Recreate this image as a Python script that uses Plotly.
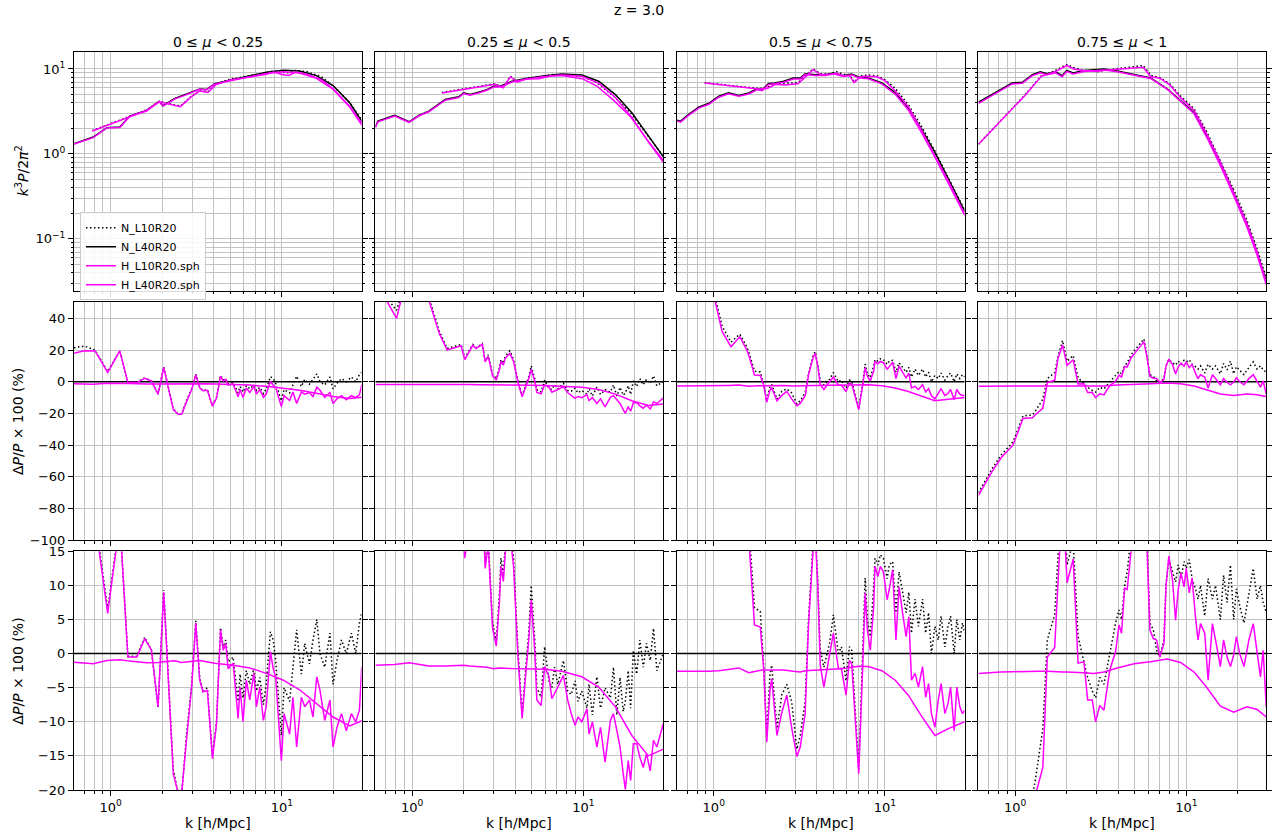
import numpy as np
import plotly.graph_objects as go
from plotly.subplots import make_subplots

# ---------------- text ----------------
suptitle = "z = 3.0"
mu_labels = ["0 ≤ <i>μ</i> < 0.25", "0.25 ≤ <i>μ</i> < 0.5",
             "0.5 ≤ <i>μ</i> < 0.75", "0.75 ≤ <i>μ</i> < 1"]
series_names = ["N_L10R20", "N_L40R20", "H_L10R20.sph", "H_L40R20.sph"]
ylabel_top = "<i>k</i><sup>3</sup><i>P</i>/2<i>π</i><sup>2</sup>"
ylabel_ratio = "Δ<i>P</i>/<i>P</i> × 100 (%)"
xlabel = "k [h/Mpc]"
x_tickvals = [1, 10]
x_ticktext = ["10<sup>0</sup>", "10<sup>1</sup>"]
ytop_tickvals = [0.1, 1, 10]
ytop_ticktext = ["10<sup>−1</sup>", "10<sup>0</sup>", "10<sup>1</sup>"]

# ---------------- column 1 : 0 <= mu < 0.25 ----------------
k40_c1 = [0.61, 0.79, 0.95, 1.13, 1.29, 1.62, 1.92, 2.02, 2.37, 2.59, 3.31, 3.62, 4.05,
          5.19, 6.49, 8.12, 10.2, 12.7, 15.9, 19.9, 24.9, 29.5]
pn40_c1 = [1.32, 1.58, 2.04, 2.07, 2.79, 3.25, 4.18, 3.7, 4.49, 4.79, 5.83, 5.73, 6.73,
           7.5, 8.36, 9.14, 9.65, 9.48, 8.36, 6.38, 4.0, 2.37]
dh40_c1 = [-1.25, -1.5, -1.0, -0.9, -1.1, -1.35, -1.3, -1.2, -1.05, -1.3, -1.0, -1.2, -1.4,
           -1.7, -2.1, -2.9, -3.9, -5.3, -7.3, -9.3, -10.6, -9.8]
k10top_c1 = [0.78, 1.29, 1.62, 1.92, 2.55, 2.95, 3.3, 3.7, 4.1, 5.0, 6.5, 8.0, 9.0, 10.0,
             11.0, 12.0, 14.0, 17.0, 20.0, 25.0, 29.5]
ph10_c1 = [1.86, 2.75, 3.25, 4.1, 3.6, 4.7, 5.5, 5.3, 6.5, 7.4, 8.0, 8.6, 9.2, 8.6,
           8.4, 9.2, 8.7, 7.5, 5.8, 3.6, 2.25]
pn10_c1 = [1.88, 2.78, 3.3, 4.15, 3.65, 4.75, 5.55, 5.4, 6.6, 7.6, 8.3, 9.0, 9.5, 9.1,
           9.0, 9.6, 9.3, 8.1, 6.3, 4.0, 2.45]
kr_c1 = [0.61, 0.70, 0.81, 0.96, 1.13, 1.26, 1.42, 1.58, 1.73, 1.89, 2.04, 2.17, 2.32, 2.48,
         2.60, 2.77, 2.97, 3.14, 3.31, 3.46, 3.67, 3.93, 4.15, 4.38, 4.54, 4.70, 4.85, 5.19,
         5.55, 5.70, 5.93, 6.20, 6.49, 6.86, 7.10, 7.43, 7.80, 8.10, 8.57, 8.90, 9.20, 9.93,
         10.3, 11.1, 11.6, 12.2, 13.0, 13.6, 14.5, 15.2, 16.0, 16.7, 17.8, 19.1, 19.9, 21.0,
         22.3, 23.8, 25.5, 27.0, 28.4, 29.3]
dh10_c1 = [18.0, 19.5, 19.4, 5.9, 19.4, -0.5, -0.5, 2.2, 0.5, -7.8, 9.0, -4.4, -17.6, -20.5,
           -20.3, -12.7, -4.9, 4.5, -3.9, -5.6, -5.4, -15.4, -10.3, 3.5, 0.5, 1.5, -2.2, -1.4,
           -9.5, -4.9, -10.0, -3.9, -6.8, -2.9, -7.8, -4.9, -9.8, -7.8, 0.3, -2.2, -3.4, -15.7,
           -8.8, -11.8, -6.4, -13.7, -6.4, -7.8, -6.8, -9.3, -3.4, -5.4, -9.8, -6.8, -13.7, -10.8,
           -8.8, -11.3, -8.8, -10.0, -8.3, -1.9]
dn10_c1 = [21.5, 22.5, 20.0, 6.5, 19.6, -0.4, -0.4, 2.4, 0.5, -8.0, 9.3, -4.2, -17.0, -20.5,
           -20.5, -12.0, -4.5, 4.8, -3.6, -5.5, -5.0, -15.0, -10.0, 3.8, 1.0, 2.0, -1.2, -0.5,
           -7.0, -3.0, -6.5, -2.5, -4.5, -2.2, -5.5, -3.5, -7.5, -4.5, 3.2, 2.0, -1.0, -12.0,
           -5.0, -7.0, -2.0, 3.5, -3.0, 1.5, -1.5, 2.0, 5.0, 0.0, -2.0, 3.0, -4.5, -1.0,
           2.0, 0.0, 3.0, 0.0, 4.5, 6.0]

# ---------------- column 2 : 0.25 <= mu < 0.5 ----------------
k40_c2 = [0.61, 0.63, 0.79, 0.96, 1.09, 1.25, 1.56, 1.87, 2.0, 2.18, 2.44, 2.73, 2.99, 3.27,
          3.83, 4.79, 5.99, 7.5, 9.8, 12.3, 15.4, 19.2, 24.0, 29.3]
pn40_c2 = [2.09, 2.43, 2.84, 2.39, 2.84, 3.19, 4.37, 4.7, 5.23, 5.0, 5.32, 5.72, 6.26, 6.26,
           7.17, 7.83, 8.34, 8.73, 8.5, 7.17, 5.0, 3.06, 1.63, 0.93]
dh40_c2 = [-1.7, -1.7, -1.6, -1.35, -1.6, -1.8, -1.8, -1.7, -1.7, -1.8, -1.9, -2.0, -2.2, -2.1,
           -2.2, -2.2, -2.3, -2.6, -3.4, -4.9, -7.8, -12.0, -15.0, -14.0]
k10top_c2 = [1.49, 3.05, 3.4, 3.75, 4.1, 4.6, 5.5, 6.5, 7.5, 8.5, 10.0, 12.0, 15.0, 19.0, 24.0, 29.3]
ph10_c2 = [5.23, 6.6, 6.0, 8.1, 7.0, 7.6, 7.7, 8.3, 8.4, 8.0, 7.6, 6.3, 4.3, 2.7, 1.4, 0.84]
pn10_c2 = [5.3, 6.7, 6.1, 8.2, 7.1, 7.8, 7.9, 8.6, 8.6, 8.4, 8.1, 6.9, 4.8, 3.0, 1.6, 0.94]
kr_c2 = [0.61, 0.71, 0.81, 0.86, 1.0, 1.22, 1.26, 1.44, 1.6, 1.93, 2.03, 2.26, 2.36, 2.57,
         2.67, 2.78, 2.95, 3.1, 3.24, 3.3, 3.41, 3.5, 3.72, 3.91, 4.14, 4.39, 4.63, 4.8,
         4.96, 5.2, 5.35, 5.67, 5.94, 6.3, 6.55, 6.78, 7.1, 7.65, 8.1, 8.5, 8.95, 9.3,
         9.8, 10.5, 10.8, 11.3, 12.0, 12.6, 13.4, 14.4, 15.0, 15.7, 16.4, 17.1, 17.6, 18.3,
         18.9, 19.6, 20.5, 21.4, 22.4, 23.4, 24.6, 25.7, 26.9, 29.3]
dh10_c2 = [70, 51, 40, 52, 80, 56, 50.5, 30.5, 20, 22.7, 14, 23, 21, 23.6,
           12.5, 16, 3.7, 1.1, 7.9, 12.8, 10.6, 14.8, 17.9, 12.8, 0, -9.5, -2.4, 2.0,
           7.9, 0.5, -6.8, -7.6, -1.9, -3.4, -6.6, -5.9, -4.9, -3.2, -6.8, -8.8, -10.5, -9.3,
           -10.0, -8.1, -11.8, -10.0, -13.7, -10.8, -15.9, -9.8, -8.8, -11.3, -13.7, -17.6, -19.9, -15.7,
           -18.6, -13.2, -13.2, -15.2, -16.7, -14.7, -17.2, -12.7, -13.7, -10.3]
dn10_c2 = [72, 53, 45, 54, 82, 58, 52, 32, 21, 23.5, 15, 23.5, 21.5, 24,
           13, 17, 4.5, 2.0, 9, 14, 11.5, 16, 19.5, 14, 1, -9, -1.5, 3,
           10, 2, -5, -6.4, 1, -4, -5, -2, -4.5, -1, -5.5, -6, -4, -7,
           -5.5, -8, -4.5, -9, -3.4, -8, -5, -6.5, -2, -9, -3.5, -8.5, -7, -2.5,
           -8, 0.5, -3, 2, -2, 1.5, -1, 3.7, -2.5, 0]

# ---------------- column 3 : 0.5 <= mu < 0.75 ----------------
k40_c3 = [0.61, 0.64, 0.71, 0.82, 0.93, 1.07, 1.22, 1.40, 1.6, 1.79, 1.92, 2.09, 2.27, 2.56,
          2.92, 3.2, 3.42, 3.92, 4.5, 5.0, 5.73, 6.4, 7.0, 8.0, 9.6, 11.5, 13.7, 16.4, 19.6,
          23.5, 29.3]
pn40_c3 = [2.5, 2.43, 2.91, 3.58, 3.92, 4.77, 5.23, 4.87, 5.23, 5.83, 5.7, 6.73, 6.86, 7.17,
           7.83, 7.83, 8.81, 8.57, 8.57, 8.97, 8.34, 8.73, 8.05, 7.83, 6.86, 5.23, 3.49, 1.95, 1.04,
           0.505, 0.21]
dh40_c3 = [-2.6, -2.6, -2.7, -2.7, -2.6, -2.5, -2.3, -2.1, -2.8, -2.5, -2.4, -2.4, -2.4, -2.4,
           -2.6, -2.7, -2.5, -2.4, -2.3, -2.3, -2.2, -2.0, -1.85, -1.9, -2.5, -3.9, -6.1, -9.2, -12.0,
           -11.0, -10.0]
k10top_c3 = [0.885, 1.83, 2.05, 2.3, 2.6, 3.1, 3.4, 3.8, 4.2, 4.8, 5.2, 5.8, 6.2, 6.6, 7.2,
             8.0, 9.0, 10.0, 11.5, 13.7, 16.4, 19.6, 23.5, 29.3]
ph10_c3 = [6.86, 5.83, 5.9, 6.6, 6.5, 6.7, 7.9, 9.8, 8.6, 8.6, 8.9, 8.3, 8.4, 6.9, 8.1,
           8.2, 8.1, 7.3, 5.5, 3.6, 1.9, 0.94, 0.48, 0.194]
pn10_c3 = [6.9, 5.9, 6.0, 6.8, 6.8, 6.9, 8.1, 10.0, 8.8, 8.8, 9.3, 8.6, 8.6, 7.0, 8.3,
           8.5, 8.3, 7.5, 5.9, 3.8, 2.1, 1.08, 0.52, 0.217]
kr_c3 = [0.9, 1.02, 1.12, 1.26, 1.42, 1.56, 1.62, 1.73, 1.87, 1.96, 2.04, 2.13, 2.18, 2.34,
         2.5, 2.67, 2.85, 3.06, 3.2, 3.42, 3.58, 3.8, 3.91, 4.05, 4.19, 4.4, 4.75, 5.0,
         5.35, 5.57, 5.93, 6.2, 6.4, 7.03, 7.42, 7.67, 7.9, 8.22, 8.6, 8.75, 9.1, 9.4,
         9.8, 10.3, 10.6, 11.1, 11.6, 12.1, 12.7, 13.3, 13.8, 14.3, 15.0, 15.7, 16.6, 17.3,
         18.0, 18.7, 19.6, 20.5, 21.3, 22.4, 23.4, 24.2, 25.4, 26.3, 27.4, 28.4, 29.3]
dh10_c3 = [85, 50.5, 31.6, 22.1, 28.4, 20, 15, 4.2, 3.9, -2.4, -13, -5.4, -3.7, -12,
           -8.6, -6.1, -10.8, -15.1, -13.7, -8.8, 4.4, 15, 18, 10, -1.7, -4.9, 0, 3.0,
           -2.2, -2.2, -6.1, -1.0, -1.5, -17.6, -1.9, 8.9, 3.5, 0.5, 6.9, 12.8, 11.3, 12.8,
           12.0, 7.9, 9.4, 12.3, 2.0, 9.8, 5.9, 2.5, 5.4, -3.9, -2.9, -4.9, -1.9, -6.4,
           -4.4, -8.8, -10.8, -6.8, -4.4, -8.8, -7.3, -4.9, -11.3, -4.9, -7.8, -8.8, -8.3]
dn10_c3 = [88, 53, 35, 25, 30, 22, 17, 6.7, 6.2, -2, -12, -3, -1.7, -11,
           -6, -4.5, -7, -14, -12, -7, 5, 16, 19, 11, 0.5, -2, 1.5, 5.7,
           0, 1, -4, 1, 0.5, -17, -1, 11.1, 5, 2.5, 10, 14, 13, 14.5,
           14, 11, 13, 13.5, 6, 12, 9, 6, 9, 3, 8, 4, 8, 3,
           6, 0, 4, 2, 5.5, 1, 4, 5.5, 0, 5, 2, 4.5, 3]

# ---------------- column 4 : 0.75 <= mu < 1 ----------------
k40_c4 = [0.61, 0.69, 0.82, 0.96, 1.1, 1.26, 1.4, 1.54, 1.72, 1.88, 2.0, 2.18, 2.52, 2.88,
          3.3, 3.95, 4.94, 6.18, 7.73, 9.25, 11.1, 13.2, 15.8, 18.9, 22.6, 25.9, 29.3]
pn40_c4 = [4.06, 4.69, 5.72, 6.86, 6.97, 8.57, 9.29, 8.8, 9.29, 8.34, 9.63, 9.0, 9.63, 9.8,
           10.0, 9.46, 8.57, 7.83, 5.83, 4.18, 3.05, 1.63, 0.79, 0.352, 0.15, 0.0697, 0.032]
dh40_c4 = [-2.9, -2.8, -2.7, -2.65, -2.6, -2.6, -2.6, -2.6, -2.7, -2.7, -2.7, -2.7, -2.8, -2.9,
           -2.7, -2.1, -1.5, -1.2, -0.8, -1.3, -2.7, -5.0, -7.7, -8.6, -7.8, -8.2, -9.3]
k10top_c4 = [0.61, 1.13, 1.42, 1.7, 2.0, 2.2, 2.5, 3.0, 3.5, 4.0, 4.85, 5.6, 6.2, 7.0, 8.0,
             9.25, 11.1, 13.2, 15.8, 18.9, 22.6, 25.9, 29.3]
ph10_c4 = [1.3, 4.79, 8.19, 9.2, 11.0, 10.0, 9.6, 9.4, 9.7, 9.9, 10.3, 10.5, 8.1, 7.8, 6.5,
           4.6, 3.25, 1.7, 0.8, 0.355, 0.152, 0.07, 0.031]
pn10_c4 = [1.3, 4.85, 8.3, 9.5, 11.3, 10.4, 9.6, 9.3, 9.8, 10.2, 10.6, 11.0, 8.4, 7.9, 6.7,
           4.8, 3.4, 1.8, 0.84, 0.38, 0.165, 0.076, 0.035]
kr_c4 = [0.61, 0.73, 0.83, 0.97, 1.11, 1.26, 1.32, 1.45, 1.54, 1.7, 1.78, 1.89, 2.01, 2.18,
         2.33, 2.52, 2.65, 2.82, 2.95, 3.12, 3.3, 3.57, 3.86, 4.04, 4.18, 4.36, 4.51, 4.75,
         5.08, 5.65, 5.9, 6.12, 6.41, 6.7, 7.0, 7.4, 7.6, 7.9, 8.3, 8.65, 8.96, 9.3,
         9.7, 9.98, 10.4, 10.8, 11.3, 11.7, 12.1, 12.8, 13.4, 14.2, 14.8, 15.8, 16.5, 17.3,
         18.1, 18.9, 19.6, 20.5, 21.7, 23.2, 24.6, 25.9, 27.1, 28.1, 29.3]
dh10_c4 = [-71.6, -56.8, -47.8, -40, -23.2, -22.7, -20.5, -16.7, -0.5, 0.9, 15, 23.2, 10.4, 13.9,
           -1.4, -1.2, -6.8, -6.8, -10.0, -7.6, -8.3, -2.4, 0.3, 4.2, 3.0, 9.6, 9.4, 15,
           19, 25.3, 15, 3.5, 2.2, 2.0, -0.5, 1.5, 9.8, 14.3, 10.8, 4.9, 9.4, 11.8,
           9.8, 12.5, 8.9, 11.1, 5.4, 2.0, 4.4, 3.0, -3.9, 4.4, 2.0, -1.9, 2.0, -0.5,
           -1.9, -0.2, 2.5, 0, -1.9, 2.0, 4.4, 0.5, -3.4, 0.5, -7.8]
dn10_c4 = [-70, -55, -46, -38, -21.5, -21, -18, -11, 2, 5.7, 16, 26, 13, 16.5,
           2.5, -1, -3.5, -5.5, -6.5, -3.5, -4.5, 0, 4.5, 6.4, 5, 10, 12, 17,
           21, 27, 16, 4.5, 3.5, 0.5, -0.5, 2, 10, 14, 12, 10.5, 13, 11,
           13.5, 12.5, 13.8, 11, 9.5, 8, 10, 5.5, 11, 8, 10, 5, 11.5, 7.5,
           13, 5, 9.5, 7, 4.5, 9, 12.5, 8, 10, 7.5, 6]

columns = [
    dict(k40=k40_c1, pn40=pn40_c1, dh40=dh40_c1, k10top=k10top_c1, ph10=ph10_c1, pn10=pn10_c1,
         kr=kr_c1, dh10=dh10_c1, dn10=dn10_c1),
    dict(k40=k40_c2, pn40=pn40_c2, dh40=dh40_c2, k10top=k10top_c2, ph10=ph10_c2, pn10=pn10_c2,
         kr=kr_c2, dh10=dh10_c2, dn10=dn10_c2),
    dict(k40=k40_c3, pn40=pn40_c3, dh40=dh40_c3, k10top=k10top_c3, ph10=ph10_c3, pn10=pn10_c3,
         kr=kr_c3, dh10=dh10_c3, dn10=dn10_c3),
    dict(k40=k40_c4, pn40=pn40_c4, dh40=dh40_c4, k10top=k10top_c4, ph10=ph10_c4, pn10=pn10_c4,
         kr=kr_c4, dh10=dh10_c4, dn10=dn10_c4),
]

# ---------------- figure ----------------
BLACK = "#000000"
MAGENTA = "#ff00ff"
LW = 1.5
DOT = "1.5px,2.5px"
GRID = "#c2c2c2"
FONT = "DejaVu Sans"

fig = make_subplots(rows=3, cols=4)

for c, col in enumerate(columns, start=1):
    k40 = np.array(col["k40"])
    pn40 = np.array(col["pn40"])
    dh40 = np.array(col["dh40"])
    ph40 = pn40 * (1 + dh40 / 100.0)
    d_n40 = (pn40 / pn40 - 1.0) * 100.0
    show = (c == 1)
    # top row
    fig.add_trace(go.Scatter(x=col["k10top"], y=col["pn10"], mode="lines", name=series_names[0],
                             line=dict(color=BLACK, width=LW, dash=DOT), legendgroup="a",
                             showlegend=show), row=1, col=c)
    fig.add_trace(go.Scatter(x=k40, y=pn40, mode="lines", name=series_names[1],
                             line=dict(color=BLACK, width=LW), legendgroup="b",
                             showlegend=show), row=1, col=c)
    fig.add_trace(go.Scatter(x=col["k10top"], y=col["ph10"], mode="lines", name=series_names[2],
                             line=dict(color=MAGENTA, width=LW), legendgroup="c",
                             showlegend=show), row=1, col=c)
    fig.add_trace(go.Scatter(x=k40, y=ph40, mode="lines", name=series_names[3],
                             line=dict(color=MAGENTA, width=LW), legendgroup="d",
                             showlegend=show), row=1, col=c)
    # ratio rows (same data, two zoom levels)
    for r in (2, 3):
        fig.add_trace(go.Scatter(x=col["kr"], y=col["dn10"], mode="lines", name=series_names[0],
                                 line=dict(color=BLACK, width=LW, dash=DOT), legendgroup="a",
                                 showlegend=False), row=r, col=c)
        fig.add_trace(go.Scatter(x=k40, y=d_n40, mode="lines", name=series_names[1],
                                 line=dict(color=BLACK, width=LW), legendgroup="b",
                                 showlegend=False), row=r, col=c)
        fig.add_trace(go.Scatter(x=col["kr"], y=col["dh10"], mode="lines", name=series_names[2],
                                 line=dict(color=MAGENTA, width=LW), legendgroup="c",
                                 showlegend=False), row=r, col=c)
        fig.add_trace(go.Scatter(x=k40, y=dh40, mode="lines", name=series_names[3],
                                 line=dict(color=MAGENTA, width=LW), legendgroup="d",
                                 showlegend=False), row=r, col=c)

# ---------------- axes ----------------
xdom = [[0.0, 0.2412], [0.2529, 0.4941], [0.5059, 0.7471], [0.7588, 1.0]]
ydom = {1: [0.6766, 1.0], 2: [0.3383, 0.6617], 3: [0.0, 0.3234]}
xminor = [m * 10.0 ** e for e in (-1, 0, 1) for m in range(2, 10)]
yminor = [m * 10.0 ** e for e in (-2, -1, 0, 1) for m in range(2, 10)]
xrange_log = [np.log10(0.61), np.log10(29.2)]

common = dict(showline=True, linecolor=BLACK, linewidth=1, ticks="outside", ticklen=5,
              tickwidth=1, tickcolor=BLACK, showgrid=True, gridcolor=GRID, gridwidth=1,
              zeroline=False, tickfont=dict(family=FONT, size=13, color=BLACK))

layout_axes = {}
for r in (1, 2, 3):
    for c in (1, 2, 3, 4):
        idx = (r - 1) * 4 + c
        xa = "xaxis" if idx == 1 else f"xaxis{idx}"
        ya = "yaxis" if idx == 1 else f"yaxis{idx}"
        layout_axes[xa] = dict(common, type="log", range=xrange_log, domain=xdom[c - 1],
                               tickmode="array", tickvals=x_tickvals, ticktext=x_ticktext,
                               showticklabels=(r == 3), mirror=True,
                               minor=dict(tickmode="array", tickvals=xminor, ticks="outside",
                                          ticklen=2.5, tickcolor=BLACK, showgrid=True,
                                          gridcolor=GRID, gridwidth=1))
        if r == 1:
            layout_axes[ya] = dict(common, type="log", range=[-1.61, 1.2], domain=ydom[r],
                                   tickmode="array", tickvals=ytop_tickvals, ticktext=ytop_ticktext,
                                   showticklabels=(c == 1), mirror="ticks",
                                   minor=dict(tickmode="array", tickvals=yminor, ticks="outside",
                                              ticklen=2.5, tickcolor=BLACK, showgrid=True,
                                              gridcolor=GRID, gridwidth=1))
        elif r == 2:
            layout_axes[ya] = dict(common, range=[-100, 50.5], domain=ydom[r], tickmode="linear",
                                   tick0=0, dtick=20, showticklabels=(c == 1), mirror="ticks")
        else:
            layout_axes[ya] = dict(common, range=[-20, 15], domain=ydom[r], tickmode="linear",
                                   tick0=0, dtick=5, showticklabels=(c == 1), mirror="ticks")

fig.update_layout(**layout_axes)

# ---------------- annotations ----------------
ann = []
ann.append(dict(text=suptitle, x=0.474, y=1.057, xref="paper", yref="paper", showarrow=False,
                xanchor="center", yanchor="middle", font=dict(family=FONT, size=14, color=BLACK)))
for c in range(4):
    xc = (xdom[c][0] + xdom[c][1]) / 2
    ann.append(dict(text=mu_labels[c], x=xc, y=1.0136, xref="paper", yref="paper", showarrow=False,
                    xanchor="center", yanchor="middle", font=dict(family=FONT, size=14, color=BLACK)))
    ann.append(dict(text=xlabel, x=xc, y=-0.045, xref="paper", yref="paper", showarrow=False,
                    xanchor="center", yanchor="middle", font=dict(family=FONT, size=14, color=BLACK)))
ann.append(dict(text=ylabel_top, x=-0.0436, y=(ydom[1][0] + ydom[1][1]) / 2, xref="paper",
                yref="paper", showarrow=False, textangle=-90, xanchor="center", yanchor="middle",
                font=dict(family=FONT, size=14, color=BLACK)))
for r in (2, 3):
    ann.append(dict(text=ylabel_ratio, x=-0.047, y=(ydom[r][0] + ydom[r][1]) / 2, xref="paper",
                    yref="paper", showarrow=False, textangle=-90, xanchor="center", yanchor="middle",
                    font=dict(family=FONT, size=14, color=BLACK)))

fig.update_layout(
    width=1284, height=839,
    margin=dict(l=74, r=16, t=52, b=49),
    paper_bgcolor="white", plot_bgcolor="white",
    font=dict(family=FONT, size=13, color=BLACK),
    annotations=ann,
    showlegend=True,
    legend=dict(x=0.005, y=0.783, xanchor="left", yanchor="top", bgcolor="rgba(255,255,255,0.85)",
                bordercolor="#cccccc", borderwidth=1, font=dict(family=FONT, size=11, color=BLACK),
                tracegroupgap=0, itemwidth=30),
)

fig.write_html("out.html", config={"displayModeBar": False},
               post_script="document.body.style.margin='0px';document.body.style.overflow='hidden';")
